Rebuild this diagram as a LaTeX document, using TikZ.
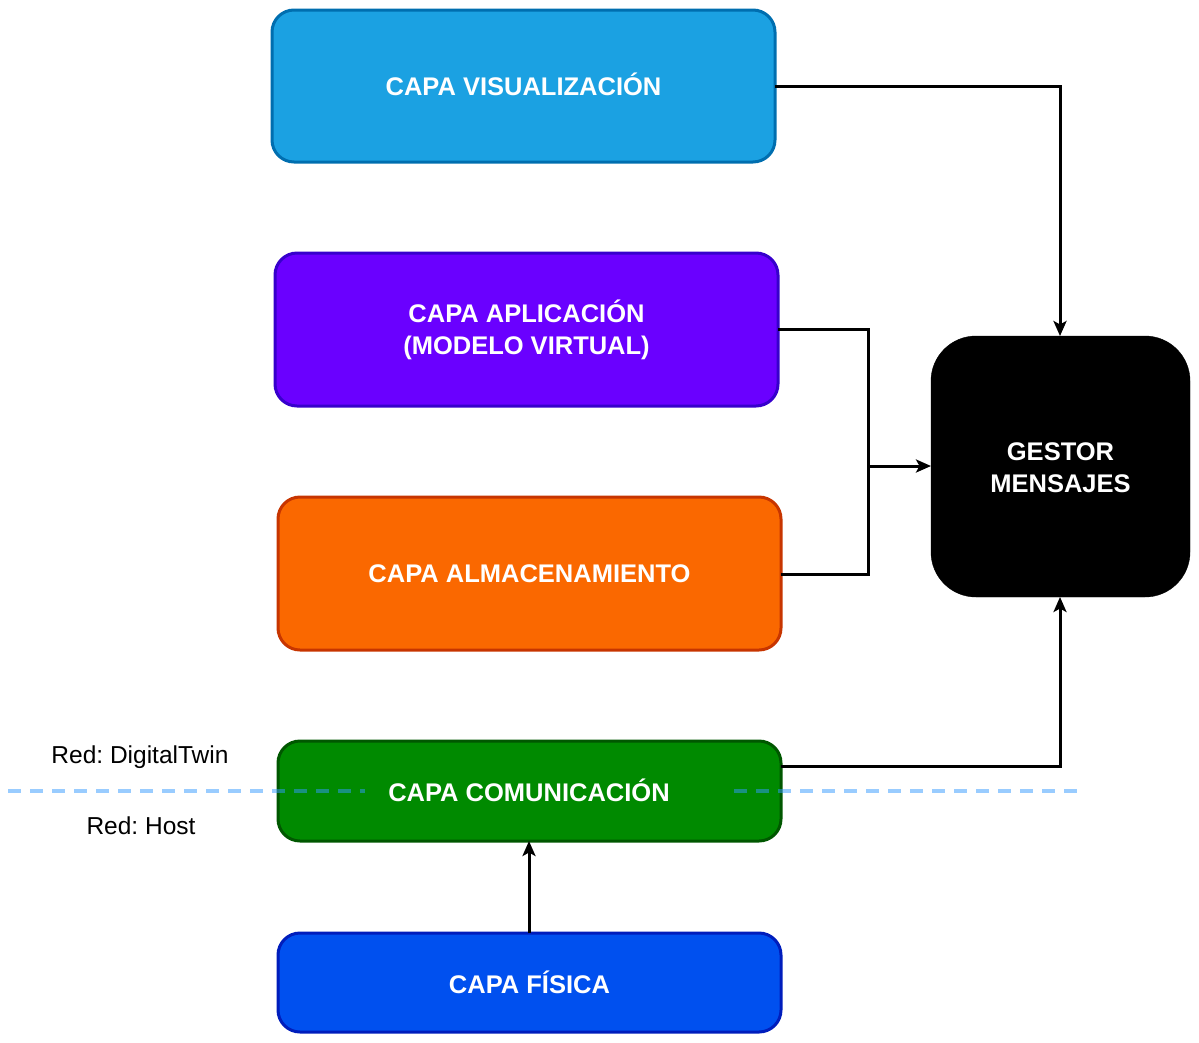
\documentclass[tikz,border=0pt]{standalone}
\usepackage{fontspec}
\setmainfont{Liberation Sans}
\usetikzlibrary{arrows.meta}
\definecolor{visf}{HTML}{1BA1E2}\definecolor{viss}{HTML}{006EAF}
\definecolor{appf}{HTML}{6A00FF}\definecolor{apps}{HTML}{3700CC}
\definecolor{almf}{HTML}{FA6800}\definecolor{alms}{HTML}{C73500}
\definecolor{comf}{HTML}{008A00}\definecolor{coms}{HTML}{005700}
\definecolor{fisf}{HTML}{0050EF}\definecolor{fiss}{HTML}{001DBC}
\definecolor{netc}{HTML}{3399FF}
\frenchspacing
\tikzset{
  layer/.style={draw, line width=3pt, rounded corners=22pt, inner sep=0pt},
  ltext/.style={text=white, font=\fontsize{25.5}{32}\selectfont\bfseries, align=center},
  conn/.style={line width=3pt, -{Stealth[length=15pt,width=13pt,inset=3.5pt]}},
  plain/.style={line width=3pt},
  netlabel/.style={font=\fontsize{24.5}{28}\selectfont, text=black}
}
\begin{document}
\begin{tikzpicture}[x=1pt,y=-1pt]
\useasboundingbox (0,0) rectangle (1199,1042);
% boxes
\draw[layer, fill=visf, draw=viss] (272,10) rectangle (775,162);
\node[ltext] (vis) at (523.5,84) {CAPA VISUALIZACIÓN};
\coordinate (visR) at (775,86);
\draw[layer, fill=appf, draw=apps] (275,253) rectangle (778,406);
\node[ltext] (app) at (526.5,330) {CAPA APLICACIÓN\\(MODELO VIRTUAL)};
\coordinate (appR) at (778,329);
\draw[layer, fill=almf, draw=alms] (278,497) rectangle (781,650);
\node[ltext] (alm) at (529.5,574) {CAPA ALMACENAMIENTO};
\coordinate (almR) at (781,574);
\draw[layer, fill=comf, draw=coms] (278,741) rectangle (781,841);
\coordinate (comR) at (781,766);
\coordinate (comT) at (529,841);
\draw[layer, fill=fisf, draw=fiss] (278,933) rectangle (781,1032);
\node[ltext] (fis) at (529.5,982) {CAPA FÍSICA};
\coordinate (fisT) at (529,933);
\draw[fill=black, rounded corners=45pt] (931,336) rectangle (1190,597);
\node[ltext] (gest) at (1060.5,468) {GESTOR\\MENSAJES};
\coordinate (gT) at (1060,336);
\coordinate (gL) at (931,466);
\coordinate (gB) at (1060,597);
% network separator
\draw[netc, opacity=0.5, line width=3.5pt, dash pattern=on 13pt off 9pt] (8,791) -- (1082,791);
\node[ltext, fill=comf, minimum width=362pt, minimum height=28pt, inner sep=0pt] (com) at (546,790) {\makebox[362pt]{\hspace{-34pt}CAPA COMUNICACIÓN}};
\node[netlabel] (dt) at (140,757) {Red: DigitalTwin};
\node[netlabel] (host) at (141,826) {Red: Host};
% connectors
\draw[conn] (visR) -| (gT);
\draw[plain] (appR) -- (868,329) -- (868,466);
\draw[plain] (almR) -- (868,574) -- (868,466);
\draw[conn] (868,466) -- (gL);
\draw[conn] (comR) -| (gB);
\draw[conn] (fisT) -- (comT);
\end{tikzpicture}
\end{document}
